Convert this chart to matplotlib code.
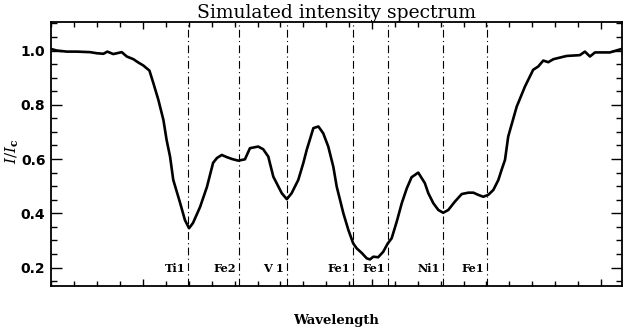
import numpy as np
import matplotlib
matplotlib.use("Agg")
import matplotlib.pyplot as plt
from matplotlib.ticker import MultipleLocator, NullFormatter

plt.rcParams["mathtext.fontset"] = "dejavuserif"

# Wavelength (arbitrary offset units) and normalized intensity I/Ic
wave = [-0.399, -0.377, -0.333, -0.290, -0.231, -0.202, -0.173, -0.156, -0.130, -0.093,
        -0.071, -0.042, -0.021, 0.001, 0.028, 0.045, 0.067, 0.089, 0.103, 0.118,
        0.132, 0.162, 0.183, 0.201, 0.218, 0.249, 0.279, 0.306, 0.323, 0.344,
        0.366, 0.389, 0.416, 0.445, 0.467, 0.503, 0.525, 0.547, 0.569, 0.606,
        0.628, 0.649, 0.678, 0.700, 0.715, 0.744, 0.766, 0.787, 0.809, 0.831,
        0.846, 0.875, 0.897, 0.918, 0.933, 0.955, 0.977, 0.991, 1.006, 1.027,
        1.049, 1.069, 1.086, 1.108, 1.130, 1.152, 1.173, 1.202, 1.231, 1.246,
        1.268, 1.290, 1.311, 1.333, 1.362, 1.392, 1.421, 1.443, 1.464, 1.486,
        1.508, 1.530, 1.552, 1.566, 1.581, 1.595, 1.632, 1.668, 1.704, 1.726,
        1.748, 1.770, 1.792, 1.850, 1.908, 1.930, 1.952, 1.974, 2.039, 2.087]
intensity = [1.005, 1.000, 0.996, 0.996, 0.994, 0.990, 0.988, 0.996, 0.987, 0.994,
             0.978, 0.968, 0.956, 0.945, 0.926, 0.880, 0.818, 0.744, 0.670, 0.609,
             0.523, 0.438, 0.375, 0.345, 0.364, 0.423, 0.497, 0.586, 0.604, 0.615,
             0.607, 0.600, 0.594, 0.599, 0.640, 0.646, 0.636, 0.609, 0.535, 0.474,
             0.452, 0.474, 0.523, 0.585, 0.634, 0.714, 0.720, 0.695, 0.646, 0.572,
             0.498, 0.400, 0.338, 0.289, 0.271, 0.254, 0.234, 0.230, 0.240, 0.238,
             0.258, 0.289, 0.308, 0.369, 0.437, 0.492, 0.533, 0.550, 0.511, 0.474,
             0.437, 0.412, 0.402, 0.412, 0.443, 0.471, 0.476, 0.476, 0.468, 0.461,
             0.468, 0.486, 0.523, 0.560, 0.597, 0.683, 0.793, 0.867, 0.929, 0.941,
             0.963, 0.957, 0.968, 0.980, 0.983, 0.996, 0.978, 0.993, 0.993, 1.005]

line_pos = [0.197, 0.419, 0.629, 0.917, 1.070, 1.310, 1.502]
line_names = ["Ti1", "Fe2", "V 1", "Fe1", "Fe1", "Ni1", "Fe1"]

fig = plt.figure(figsize=(6.24, 3.30), dpi=100)
ax = fig.add_axes([51/624, 1 - 286/330, (622-51)/624, (286-21.5)/330])

ax.plot(wave, intensity, color="black", lw=1.9, solid_joinstyle="round")
for xp, nm in zip(line_pos, line_names):
    ax.axvline(xp, color="black", lw=0.8, ls=(0, (7, 3, 1, 3)))
    ax.text(xp - 0.012, 0.198, nm, ha="right", va="center",
            family="DejaVu Serif", fontweight="bold", fontsize=8.2)

ax.set_xlim(-0.402, 2.092)
ax.set_ylim(0.132, 1.107)

ax.xaxis.set_major_locator(MultipleLocator(1.0))
ax.xaxis.set_minor_locator(MultipleLocator(0.1))
ax.xaxis.set_major_formatter(NullFormatter())
ax.yaxis.set_major_locator(MultipleLocator(0.2))
ax.yaxis.set_minor_locator(MultipleLocator(0.05))
ax.yaxis.set_major_formatter(plt.FuncFormatter(lambda v, p: f"{v:.1f}"))
ax.tick_params(which="both", direction="in", top=True, right=True, width=1.0, color="black")
ax.tick_params(which="major", axis="y", length=8)
ax.tick_params(which="minor", axis="y", length=4)
ax.tick_params(which="major", axis="x", length=5)
ax.tick_params(which="minor", axis="x", length=3.5)
ax.tick_params(axis="y", labelsize=10, pad=4)
for lab in ax.get_yticklabels():
    lab.set_family("DejaVu Sans")
    lab.set_fontweight("semibold")
for s in ax.spines.values():
    s.set_linewidth(1.3)

ax.set_title("Simulated intensity spectrum", family="DejaVu Serif", fontsize=13.5, pad=2)
xl = ax.set_xlabel("Wavelength", family="DejaVu Serif", fontweight="bold", fontsize=9.5)
xl.set_verticalalignment("center")
ax.xaxis.set_label_coords(0.5, -0.132)
yl = ax.set_ylabel(r"$\mathbf{\mathit{I/I}}_{\mathbf{c}}$", fontsize=11)
yl.set_verticalalignment("center")
ax.yaxis.set_label_coords(-0.068, 0.51)

fig.savefig("out.png", dpi=100)
